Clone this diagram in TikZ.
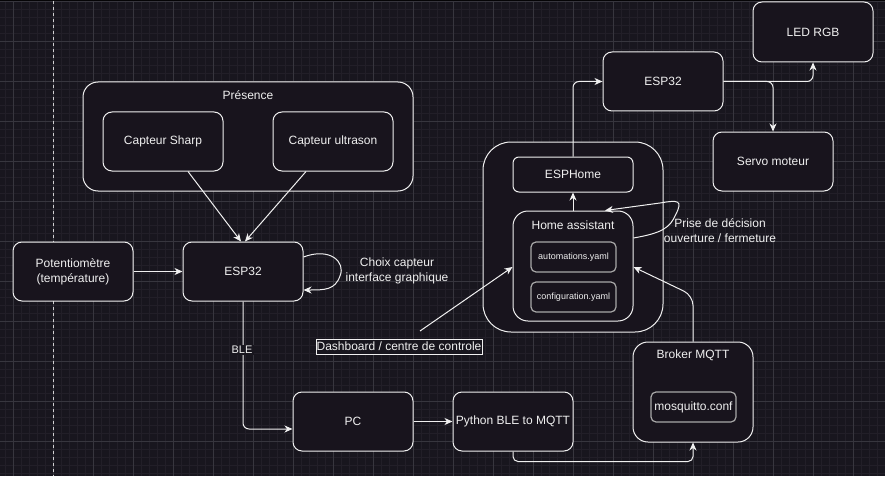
\documentclass[tikz,border=0pt]{standalone}
\usepackage{fontspec}
\setmainfont{Liberation Sans}
\usetikzlibrary{arrows.meta,calc}
\definecolor{bg}{HTML}{18161E}
\definecolor{gridminor}{HTML}{221F28}
\definecolor{gridmajor}{HTML}{37363E}
\definecolor{fg}{HTML}{F0F0F0}
\definecolor{boxfill}{HTML}{18141D}
\definecolor{innerline}{HTML}{A8A8A8}
\newcommand{\myfs}[1]{\fontsize{#1pt}{15pt}\selectfont}
\tikzset{
  box/.style={draw=fg, fill=boxfill, rounded corners=9pt, line width=1pt, text=fg,
    font=\myfs{12}, align=center, inner sep=0pt, minimum width=120pt, minimum height=59pt},
  cont/.style={box},
  inner/.style={draw=innerline, fill=boxfill, rounded corners=5pt, line width=1.2pt, text=fg,
    font=\myfs{12}, align=center, inner sep=0pt, minimum width=85pt, minimum height=30pt},
  txt/.style={text=fg, font=\myfs{12}, align=center, inner sep=0pt},
  arr/.style={draw=fg, line width=1pt, -{Stealth[length=8pt,width=7pt,inset=2.5pt]}},
  ln/.style={draw=fg, line width=1pt},
}
\begin{document}
\begin{tikzpicture}[x=1pt,y=-1pt]
\useasboundingbox (0,0) rectangle (885,476);
% background and grid
\fill[bg] (0,0) rectangle (885,476);
\foreach \gx in {5,13,...,885} \draw[gridminor, line width=0.8pt] (\gx,0) -- (\gx,476);
\foreach \gy in {1,9,...,476} \draw[gridminor, line width=0.8pt] (0,\gy) -- (885,\gy);
\foreach \gx in {13,53,...,885} \draw[gridmajor, line width=0.8pt] (\gx,0) -- (\gx,476);
\foreach \gy in {1,41,...,476} \draw[gridmajor, line width=0.8pt] (0,\gy) -- (885,\gy);
\fill[black!80!bg] (0,0) rectangle (885,1.2);
% dashed separator
\draw[color=fg!85!bg, line width=1pt, dash pattern=on 3pt off 3pt] (53,1) -- (53,476);

% Presence group
\node[cont, rounded corners=15pt, minimum width=330pt, minimum height=109pt] (pres) at (248,136.5) {};
\node[txt] (presl) at (248,95) {Présence};
\node[box] (sharp) at (163,141.5) {Capteur Sharp};
\node[box] (ultra) at (333,141.5) {Capteur ultrason};

\node[box] (pot) at (73,271.5) {Potentiomètre\\(température)};
\node[box] (esp1) at (243,271.5) {ESP32};
\node[txt] (choix) at (397,271) {Choix capteur\\interface graphique};

% Home assistant group
\node[cont, rounded corners=28pt, minimum width=180pt, minimum height=190pt] (haout) at (573,237) {};
\node[box, rounded corners=6pt, minimum height=35pt] (esphome) at (573,174.5) {ESPHome};
\node[box, rounded corners=15pt, minimum height=110pt] (ha) at (573,266) {};
\node[txt] (hal) at (573,225) {Home assistant};
\node[inner, font=\myfs{9}] (auto) at (573.5,257) {automations.yaml};
\node[inner, font=\myfs{9}] (conf) at (573.5,297) {configuration.yaml};
\node[txt] (prise) at (720,231) {Prise de décision\\ouverture / fermeture};

\node[box] (esp2) at (663,81.5) {ESP32};
\node[box, minimum height=60pt] (led) at (813,32) {LED RGB};
\node[box] (servo) at (773,161.5) {Servo moteur};

% bottom
\node[box] (pc) at (353,421.5) {PC};
\node[box] (py) at (513,421.5) {Python BLE to MQTT};
\node[cont, rounded corners=15pt, minimum height=100pt] (broker) at (693,392) {};
\node[txt] (brokerl) at (693,355) {Broker MQTT};
\node[inner] (mosq) at (693.5,407) {mosquitto.conf};

\node[draw=fg, line width=1pt, fill=bg, text=fg, font=\myfs{12}, inner sep=0pt,
      minimum width=166pt, minimum height=15pt] (dash) at (399,346.5) {Dashboard / centre de controle};
\coordinate (dashtip) at (420,331);

% edges
\draw[arr] ([xshift=25pt]sharp.south) -- ([xshift=-2pt]esp1.north);
\draw[arr] ([xshift=-27pt]ultra.south) -- ([xshift=2pt]esp1.north);
\draw[arr] (pot.east) -- (esp1.west);
\draw[arr] ([yshift=14.5pt]esp1.east) .. controls (330,247) and (346,262) .. (340,276)
           .. controls (335,290) and (325,290) .. ([yshift=-18.5pt]esp1.east);
\draw[arr, rounded corners=6pt] (esp1.south) |- ([yshift=-7.5pt]pc.west);
\node[fill=bg, text=fg, font=\myfs{11}, inner sep=1.5pt] (ble) at (242,350) {BLE};
\draw[arr] (pc.east) -- (py.west);
\draw[arr, rounded corners=5pt] (py.south) -- ++(0,10) -| (broker.south);
\draw[arr, rounded corners=10pt] (broker.north) -- ++(0,-46) -- ([yshift=-1pt]ha.east);
\draw[arr] (dashtip) -- ([yshift=-1pt]ha.west);
\draw[arr] (ha.north) -- (esphome.south);
\draw[arr, rounded corners=6pt] (esphome.north) |- (esp2.west);
\draw[arr, rounded corners=6pt] (esp2.east) -| (led.south);
\draw[arr, rounded corners=6pt] (esp2.east) -| (servo.north);
\draw[arr] ([yshift=28pt]ha.east) .. controls (662,233) and (670,228) .. (676,214)
           .. controls (683,200) and (678,200) .. (660,203) -- ([xshift=32pt]ha.north);
\end{tikzpicture}
\end{document}
